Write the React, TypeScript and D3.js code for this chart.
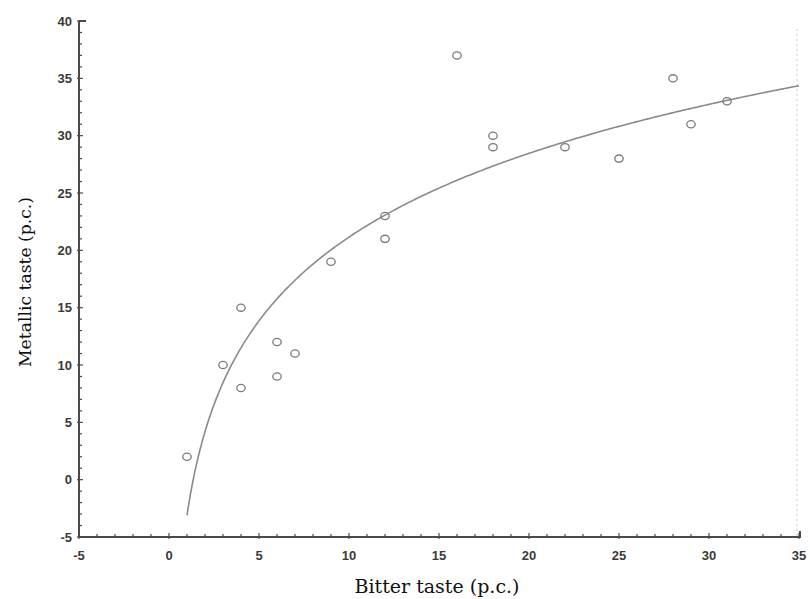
import React from "react";
import * as d3 from "d3";

// bitter taste (x) and metallic taste (y)
const bitter = [1, 3, 4, 4, 6, 6, 7, 9, 12, 12, 16, 18, 18, 22, 25, 28, 29, 31];
const metallic = [2, 10, 15, 8, 12, 9, 11, 19, 23, 21, 37, 30, 29, 29, 28, 35, 31, 33];
const xTicks = [-5, 0, 5, 10, 15, 20, 25, 30, 35];
const yTicks = [-5, 0, 5, 10, 15, 20, 25, 30, 35, 40];

const W = 810;
const H = 599;
const left = 79, right = 799, top = 21, bottom = 537;

// log trend line y = a + b ln(x), least squares on the points
function logFit(xs: number[], ys: number[]) {
  const ls = xs.map(Math.log);
  const lm = d3.mean(ls) as number;
  const ym = d3.mean(ys) as number;
  const sxy = d3.sum(ls, (l, i) => (l - lm) * (ys[i] - ym));
  const sxx = d3.sum(ls, l => (l - lm) * (l - lm));
  const b = sxy / sxx;
  return { a: ym - b * lm, b };
}

const App = () => {
  const x = d3.scaleLinear().domain([-5, 35]).range([left, right]);
  const y = d3.scaleLinear().domain([-5, 40]).range([bottom, top]);

  const fit = logFit(bitter, metallic);
  const curvePts = d3.range(1, 35.001, 0.1).map(v => [v, fit.a + fit.b * Math.log(v)] as [number, number]);
  const line = d3.line<[number, number]>().x(d => x(d[0])).y(d => y(d[1])).curve(d3.curveMonotoneX);

  const xMinor = d3.range(-5, 35.5, 1);
  const yMinor = d3.range(-5, 40.5, 1);
  const axisColor = "#4a4a4a";
  const tickFont = { fontFamily: "Arial, 'Liberation Sans', sans-serif", fontWeight: 700, fontSize: 13, fill: "#3a3a3a" };
  const titleFont = { fontFamily: "'DejaVu Serif', 'Liberation Serif', serif", fontSize: 19, fill: "#111" };

  return (
    <svg width={W} height={H} style={{ position: "absolute", left: 0, top: 0, background: "#fff" }}>
      {/* faint dotted frame on the right */}
      <line x1={right - 2} x2={right - 2} y1={top + 8} y2={bottom} stroke="#c8c8c8" strokeDasharray="2,3" />

      {/* trend curve */}
      <path d={line(curvePts) || ""} fill="none" stroke="#8a8a8a" strokeWidth={1.6} />

      {/* points */}
      {bitter.map((b, i) => (
        <ellipse key={i} cx={x(b)} cy={y(metallic[i])} rx={4.2} ry={3.6}
          fill="none" stroke="#7a7a7a" strokeWidth={1.3} />
      ))}

      {/* y axis */}
      <line x1={left} x2={left} y1={top} y2={bottom} stroke={axisColor} strokeWidth={2} />
      <line x1={left} x2={left + 7} y1={top} y2={top} stroke={axisColor} strokeWidth={2} />
      {yMinor.map(v => (
        <line key={"ym" + v} x1={left - (v % 5 === 0 ? 2 : 0)} x2={left + (v % 5 === 0 ? 4 : 3)}
          y1={y(v)} y2={y(v)} stroke={axisColor} strokeWidth={1.2} />
      ))}
      {yTicks.map(v => (
        <text key={"yt" + v} x={left - 7} y={y(v)} dy="0.35em" textAnchor="end" style={tickFont}>{v}</text>
      ))}

      {/* x axis */}
      <line x1={left} x2={right + 1} y1={bottom} y2={bottom} stroke={axisColor} strokeWidth={2} />
      <line x1={right + 1} x2={right + 1} y1={bottom + 1} y2={bottom - 6} stroke={axisColor} strokeWidth={2} />
      {xMinor.map(v => (
        <line key={"xm" + v} x1={x(v)} x2={x(v)} y1={bottom + (v % 5 === 0 ? 2 : 0)}
          y2={bottom - (v % 5 === 0 ? 4 : 3)} stroke={axisColor} strokeWidth={1.2} />
      ))}
      {xTicks.map(v => (
        <text key={"xt" + v} x={x(v)} y={555} dy="0.35em" textAnchor="middle" style={tickFont}>{v}</text>
      ))}

      {/* axis titles */}
      <text x={437} y={593} textAnchor="middle" style={titleFont}>
        Bitter taste (p.c.)
      </text>
      <text transform={`translate(31, 282) rotate(-90)`} textAnchor="middle" style={{ ...titleFont, fontSize: 17.2 }}>
        Metallic taste (p.c.)
      </text>
    </svg>
  );
};

export default App;
